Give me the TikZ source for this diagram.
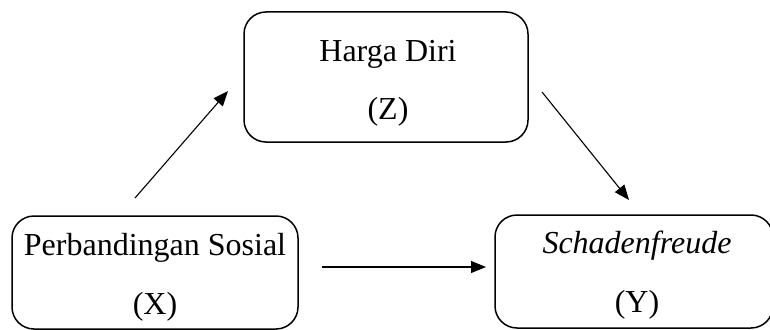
\documentclass[tikz,border=0pt]{standalone}
\usepackage{fontspec}
\setmainfont{Liberation Serif}
\usetikzlibrary{arrows.meta}
\begin{document}
\begin{tikzpicture}[x=1pt,y=-1pt,
  box/.style={draw, line width=1.5pt, rounded corners=22pt, inner sep=0pt},
  lbl/.style={inner sep=0pt, font=\fontsize{32}{36}\selectfont, anchor=base},
  arr/.style={line width=1.1pt, -{Triangle[length=15pt,width=12pt]}}]
\useasboundingbox (0,0) rectangle (770,329);
\begin{scope}
\clip (0,0) rectangle (770,329);
\node[box, minimum width=284pt, minimum height=130pt] (Z) at (386,77) {};
\node[box, minimum width=286pt, minimum height=113pt] (X) at (155,272.5) {};
\node[box, minimum width=278pt, minimum height=113pt] (Y) at (634,271.5) {};
\end{scope}
\node[lbl] (zt) at (388,61) {Harga Diri};
\node[lbl] (zl) at (388,119) {(Z)};
\node[lbl] (xt) at (155,255) {Perbandingan Sosial};
\node[lbl] (xl) at (155,314) {(X)};
\node[lbl] (yt) at (637,253) {\itshape Schadenfreude};
\node[lbl] (yl) at (637,312) {(Y)};
\coordinate (a1s) at (135,198);
\coordinate (a1e) at (228,91);
\coordinate (a2s) at (542,92);
\coordinate (a2e) at (629,200);
\coordinate (a3s) at (322,267);
\coordinate (a3e) at (486,267);
\draw[arr] (a1s) -- (a1e);
\draw[arr] (a2s) -- (a2e);
\draw[arr] (a3s) -- (a3e);
\end{tikzpicture}
\end{document}
